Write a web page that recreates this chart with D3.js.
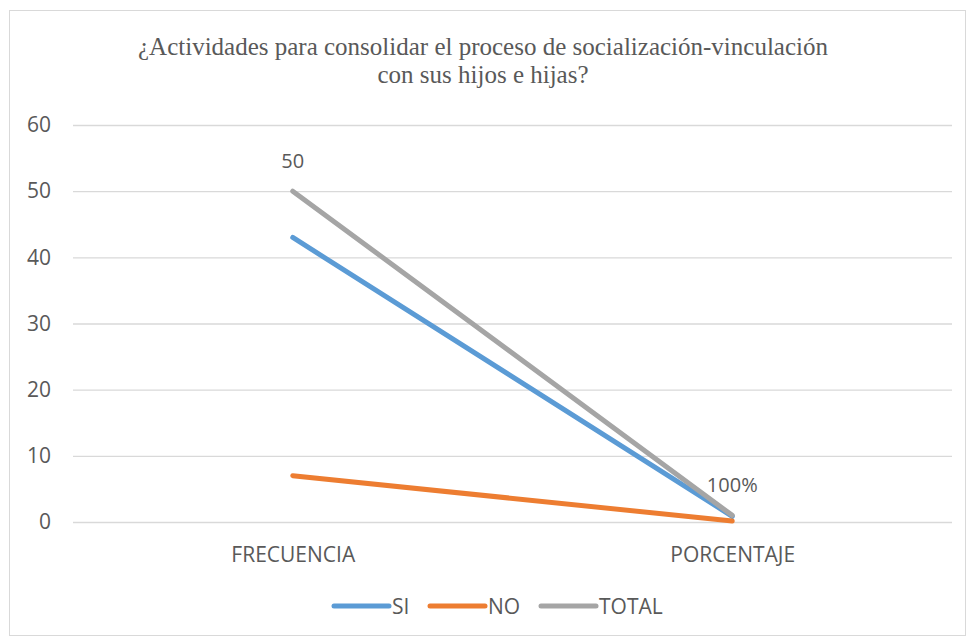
<!DOCTYPE html>
<html>
<head>
<meta charset="utf-8">
<script src="https://cdn.jsdelivr.net/npm/d3@7"></script>
<style>
  body { margin: 0; background: #fff; }
  svg text { fill: #595959; }
</style>
</head>
<body>
<svg id="chart"></svg>
<script>
// chart data
const categories = ["FRECUENCIA", "PORCENTAJE"];
const seriesNames = ["SI", "NO", "TOTAL"];
const siValues = [43, 0.86];
const noValues = [7, 0.14];
const totalValues = [50, 1];
const totalLabels = ["50", "100%"];
const yTicks = [0, 10, 20, 30, 40, 50, 60];
const colors = ["#5b9bd5", "#ed7d31", "#a5a5a5"];

const series = [siValues, noValues, totalValues].map((vals, i) => ({
    name: seriesNames[i],
    color: colors[i],
    values: vals.map((v, j) => ({ cat: categories[j], value: v }))
}));

const width = 968, height = 638;
const sans = "'Open Sans', sans-serif";
const svg = d3.select("#chart")
    .attr("width", width)
    .attr("height", height);

// chart border
svg.append("rect")
    .attr("x", 9.5).attr("y", 10.5)
    .attr("width", 956).attr("height", 625)
    .attr("fill", "#fff")
    .attr("stroke", "#d9d9d9");

// title
const title = svg.append("text")
    .attr("text-anchor", "middle")
    .style("font-family", "'Liberation Serif', 'Times New Roman', serif")
    .style("font-size", "25px");
title.append("tspan").attr("x", 483).attr("y", 55)
    .text("¿Actividades para consolidar el proceso de socialización-vinculación");
title.append("tspan").attr("x", 483).attr("y", 83)
    .text("con sus hijos e hijas?");

let xScale = d3.scalePoint()
    .domain(categories)
    .range([73, 952])
    .padding(0.5);

let yScale = d3.scaleLinear()
    .domain([0, 60])
    .range([522, 125]);

// gridlines
let yAxis = d3.axisLeft(yScale)
    .tickValues(yTicks)
    .tickSize(-(952 - 73))
    .tickPadding(22);

svg.append("g")
    .attr("class", "yAxis")
    .attr("transform", `translate(${73}, 0)`)
    .call(yAxis)
    .call(g => g.select(".domain").remove())
    .call(g => g.selectAll(".tick line").attr("stroke", "#d9d9d9").attr("stroke-width", 1.3))
    .call(g => g.selectAll(".tick text")
        .style("font-family", sans)
        .style("font-size", "21px")
        .attr("fill", "#595959"));

let xAxis = d3.axisBottom(xScale)
    .tickSize(0)
    .tickPadding(25);

svg.append("g")
    .attr("class", "xAxis")
    .attr("transform", `translate(0, ${522})`)
    .call(xAxis)
    .call(g => g.select(".domain").remove())
    .call(g => g.selectAll(".tick text")
        .style("font-family", sans)
        .style("font-size", "21px")
        .attr("fill", "#595959"));

// lines
let line = d3.line()
    .x(d => xScale(d.cat))
    .y(d => yScale(d.value));

svg.selectAll("path.series")
    .data(series)
    .enter()
        .append("path")
        .attr("class", "series")
        .attr("d", d => line(d.values))
        .attr("fill", "none")
        .attr("stroke", d => d.color)
        .attr("stroke-width", 5)
        .attr("stroke-linecap", "round");

// data labels on TOTAL
svg.selectAll("text.label")
    .data(series[2].values)
    .enter()
        .append("text")
        .attr("class", "label")
        .attr("x", d => xScale(d.cat))
        .attr("y", d => yScale(d.value) - 23)
        .attr("text-anchor", "middle")
        .style("font-family", sans)
        .style("font-size", "20px")
        .text((d, i) => totalLabels[i]);

// legend
const legendX = [334, 430, 541];
let legend = svg.selectAll("g.legend")
    .data(series)
    .enter()
        .append("g")
        .attr("class", "legend")
        .attr("transform", (d, i) => `translate(${legendX[i]}, 606)`);

legend.append("line")
    .attr("x1", 0).attr("x2", 55)
    .attr("stroke", d => d.color)
    .attr("stroke-width", 5)
    .attr("stroke-linecap", "round");

legend.append("text")
    .attr("x", 58)
    .attr("y", 8)
    .style("font-family", sans)
    .style("font-size", "21px")
    .text(d => d.name);
</script>
</body>
</html>
